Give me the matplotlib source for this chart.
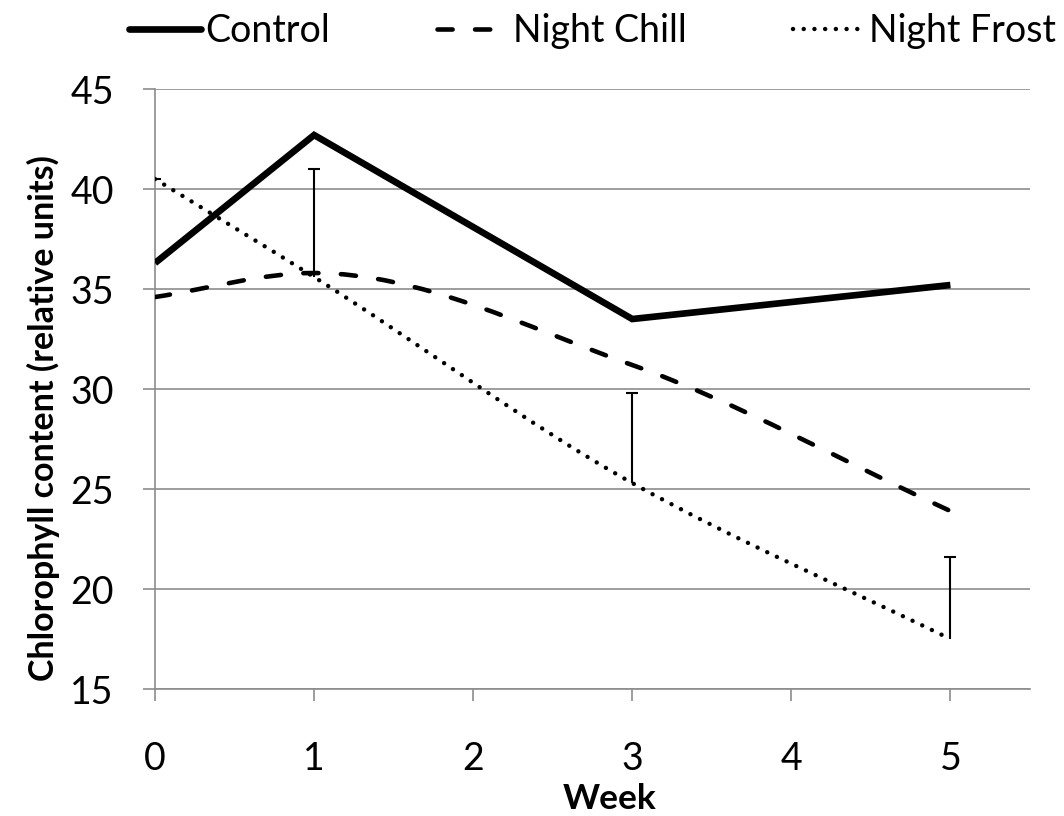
import matplotlib
matplotlib.use("Agg")
import matplotlib.pyplot as plt
from matplotlib.path import Path
from matplotlib.patches import PathPatch
from matplotlib.lines import Line2D
import numpy as np

# Data
weeks = [0, 1, 3, 5]
control = [36.3, 42.7, 33.5, 35.2]
night_chill = [34.6, 35.8, 31.2, 23.9]
night_frost = [40.5, 35.6, 25.3, 17.5]
frost_err_up = [0.0, 5.4, 4.5, 4.1]

series_labels = ["Control", "Night Chill", "Night Frost"]
x_ticks = [0, 1, 2, 3, 4, 5]
y_ticks = [15, 20, 25, 30, 35, 40, 45]

plt.rcParams["font.family"] = ["Lato", "DejaVu Sans"]

fig = plt.figure(figsize=(10.64, 8.16), dpi=100)
ax = fig.add_axes([0.1457, 0.1556, 0.968 - 0.1457, 0.8909 - 0.1556])

grid_col = "#8c8c8c"


def smooth_path(xs, ys):
    """Smooth cubic Bezier path through the points (monotone Hermite tangents)."""
    xs = np.asarray(xs, float)
    ys = np.asarray(ys, float)
    n = len(xs)
    h = np.diff(xs)
    d = np.diff(ys) / h
    m = np.zeros(n)
    m[0], m[-1] = d[0], d[-1]
    for i in range(1, n - 1):
        if d[i - 1] * d[i] <= 0:
            m[i] = 0.0
        else:
            w1 = 2 * h[i] + h[i - 1]
            w2 = h[i] + 2 * h[i - 1]
            m[i] = (w1 + w2) / (w1 / d[i - 1] + w2 / d[i])
    verts = [(xs[0], ys[0])]
    codes = [Path.MOVETO]
    for i in range(n - 1):
        c1 = (xs[i] + h[i] / 3, ys[i] + m[i] * h[i] / 3)
        c2 = (xs[i + 1] - h[i] / 3, ys[i + 1] - m[i + 1] * h[i] / 3)
        verts += [c1, c2, (xs[i + 1], ys[i + 1])]
        codes += [Path.CURVE4] * 3
    return Path(verts, codes)


control_lw = 4.8
chill_lw, chill_ls = 3.3, (0, (3.3, 4.9))
frost_lw, frost_ls = 3.2, (0, (0.01, 2.4))

# Control: straight segments
ax.plot(weeks, control, color="black", lw=control_lw, solid_joinstyle="miter",
        solid_capstyle="butt", zorder=4)

# Night Chill: smoothed dashed line
ax.add_patch(PathPatch(smooth_path(weeks, night_chill), fill=False,
                       edgecolor="black", lw=chill_lw, linestyle=chill_ls,
                       capstyle="round", zorder=4))

# Night Frost: smoothed dotted line
ax.add_patch(PathPatch(smooth_path(weeks, night_frost), fill=False,
                       edgecolor="black", lw=frost_lw, linestyle=frost_ls,
                       capstyle="round", zorder=4))

# Upper error bars on Night Frost
eb = ax.errorbar(weeks, night_frost,
                 yerr=[np.zeros(len(frost_err_up)), frost_err_up],
                 fmt="none", ecolor="black", elinewidth=1.5, capsize=4.5,
                 capthick=1.5, zorder=5)
eb[1][0].set_visible(False)

ax.set_xlim(0, 5.5)
ax.set_ylim(15, 45)
ax.set_xticks(x_ticks)
ax.set_yticks(y_ticks)
ax.set_xticklabels([str(t) for t in x_ticks])
ax.set_yticklabels([str(t) for t in y_ticks])

ax.grid(axis="y", color=grid_col, lw=1.2, zorder=0)
ax.set_axisbelow(True)
for side in ["top", "right"]:
    ax.spines[side].set_visible(False)
for side in ["left", "bottom"]:
    ax.spines[side].set_color(grid_col)
    ax.spines[side].set_linewidth(1.2)

ax.tick_params(axis="both", direction="out", color=grid_col, width=1.2,
               length=8.6, labelsize=27, colors="black")
ax.tick_params(axis="x", pad=29)
ax.tick_params(axis="y", pad=21)
for t in ax.get_xticklines() + ax.get_yticklines():
    t.set_color(grid_col)

ax.set_xlabel("Week", fontsize=25.5, fontweight="bold")
ax.xaxis.set_label_coords(0.519, -0.156)
ax.set_ylabel("Chlorophyll content (relative units)", fontsize=24.5,
              fontweight="bold")
ax.yaxis.set_label_coords(-0.109, 0.452)

handles = [
    Line2D([], [], color="black", lw=control_lw, solid_capstyle="round"),
    Line2D([], [], color="black", lw=chill_lw, linestyle=chill_ls,
           dash_capstyle="round"),
    Line2D([], [], color="black", lw=frost_lw, linestyle=frost_ls,
           dash_capstyle="round"),
]
fig.legend(handles, series_labels, loc="upper center", ncol=3,
           bbox_to_anchor=(0.557, 1.025), frameon=False, fontsize=27,
           handlelength=1.9, handletextpad=0.12, columnspacing=2.85)

fig.savefig("out.png", dpi=100, facecolor="white")
